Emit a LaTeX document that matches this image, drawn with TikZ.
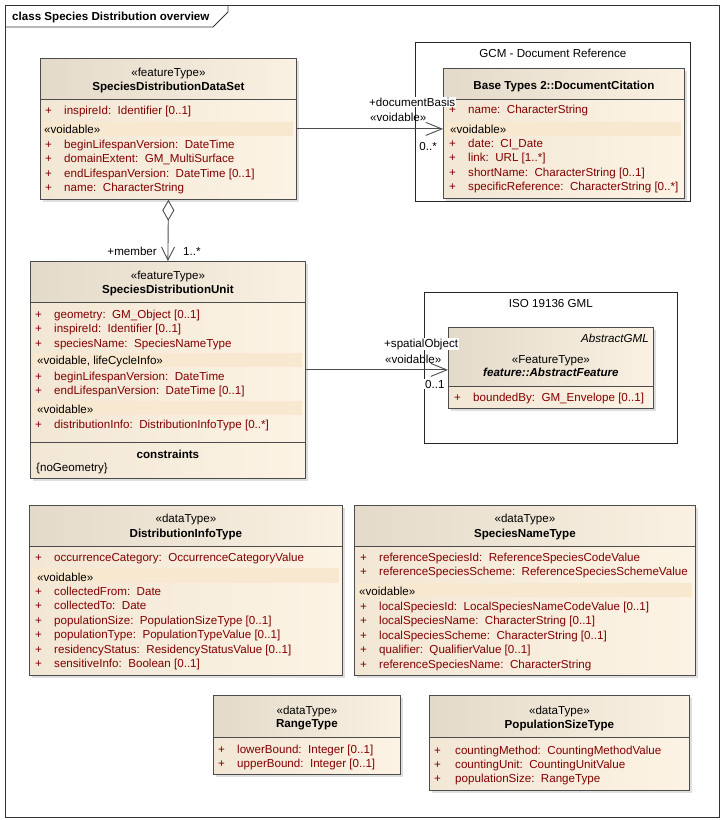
\documentclass[tikz,border=0pt]{standalone}
\usepackage{fontspec}
\setmainfont{Liberation Sans}
\usetikzlibrary{arrows.meta, shadows, positioning}
\definecolor{attrred}{RGB}{130,0,0}
\definecolor{headL}{RGB}{228,218,202}
\definecolor{headR}{RGB}{251,241,226}
\definecolor{bodyL}{RGB}{242,231,213}
\definecolor{bodyR}{RGB}{253,243,228}
\definecolor{bandc}{RGB}{248,232,207}

\begin{document}
\fontsize{11.6}{13}\selectfont
\begin{tikzpicture}[x=1pt, y=-1pt,
    every node/.style={inner sep=0pt},
    classbox/.style={draw=black!70, line width=0.8pt, anchor=north west,
      left color=bodyL, right color=bodyR,
      drop shadow={shadow xshift=3pt, shadow yshift=-3pt, fill=black!25},
      path picture={
        \shade[left color=headL, right color=headR] (path picture bounding box.north west) rectangle ([yshift=-#1]path picture bounding box.north east);
        \draw[black!70, line width=0.8pt] ([yshift=-#1]path picture bounding box.north west) -- ([yshift=-#1]path picture bounding box.north east);}},
    pkg/.style={draw=black!85, line width=0.8pt, fill=white, anchor=north west},
    stereo/.style={anchor=base},
    cname/.style={anchor=base, font=\bfseries},
    row/.style={anchor=base west, text=attrred},
    void/.style={anchor=base west},
    band/.style={fill=bandc},
    sepline/.style={draw=black!70, line width=0.8pt},
    lbl/.style={anchor=base west, fill=white, inner sep=1pt},
    assoc/.style={draw=black!70, line width=0.9pt, -{Straight Barb[length=16pt, width=13pt]}},
    agg/.style={draw=black!70, line width=0.9pt, {Diamond[open, length=21pt, width=12pt]}-{Straight Barb[length=13pt, width=13pt]}}]
  \useasboundingbox (0,0) rectangle (725,820);

  % diagram frame
  \draw[black!80, line width=0.8pt] (5,5) rectangle (719,817);
  \draw[black!80, line width=0.8pt] (5,27) -- (213,27) -- (228,12) -- (228,5);
  \node[anchor=base west, font=\bfseries] (title) at (12,20) {class Species Distribution overview};

  % packages
  \node[pkg, minimum width=275, minimum height=159] (gcm) at (415,42) {};
  \node[stereo] (gcm-t) at (gcm.north |- 0,57) {GCM - Document Reference};
  \node[pkg, minimum width=253, minimum height=151] (iso) at (424,292) {};
  \node[stereo] (iso-t) at (iso.north |- 0,307) {ISO 19136 GML};

  % SpeciesDistributionDataSet
  \node[classbox=41, minimum width=256, minimum height=141] (ds) at (40,58) {};
  \node[stereo] (ds-st) at (ds.north |- 0,76) {«featureType»};
  \node[cname] (ds-nm) at (ds.north |- 0,90) {SpeciesDistributionDataSet};
  \node[row] (ds-p) at (45,114) {+};
  \node[row] (ds-a) at (64,114) {inspireId:~~Identifier [0..1]};
  \fill[band] (43,122) rectangle (293,136);
  \node[void] (ds-v) at (44,133) {«voidable»};
  \foreach \a [count=\i from 0] in {beginLifespanVersion:~~DateTime, domainExtent:~~GM\_MultiSurface, endLifespanVersion:~~DateTime [0..1], name:~~CharacterString}{
    \node[row] (ds-p\i) at (45,148+14.5*\i) {+};
    \node[row] (ds-a\i) at (64,148+14.5*\i) {\a};
  }

  % DocumentCitation
  \node[classbox=31, minimum width=241, minimum height=130] (doc) at (443,68) {};
  \node[cname] (doc-nm) at (doc.north |- 0,89) {Base Types 2::DocumentCitation};
  \node[row] (doc-p) at (449,113) {+};
  \node[row] (doc-a) at (468,113) {name:~~CharacterString};
  \fill[band] (446,122) rectangle (681,136);
  \node[void] (doc-v) at (450,133) {«voidable»};
  \foreach \a [count=\i from 0] in {date:~~CI\_Date, link:~~URL [1..*], shortName:~~CharacterString [0..1], specificReference:~~CharacterString [0..*]}{
    \node[row] (doc-p\i) at (449,147+14.5*\i) {+};
    \node[row] (doc-a\i) at (468,147+14.5*\i) {\a};
  }

  % SpeciesDistributionUnit
  \node[classbox=41, minimum width=275, minimum height=217] (sdu) at (30,261) {};
  \node[stereo] (sdu-st) at (sdu.north |- 0,279) {«featureType»};
  \node[cname] (sdu-nm) at (sdu.north |- 0,293) {SpeciesDistributionUnit};
  \foreach \a [count=\i from 0] in {geometry:~~GM\_Object [0..1], inspireId:~~Identifier [0..1], speciesName:~~SpeciesNameType}{
    \node[row] (sdu-p\i) at (35,318+14.5*\i) {+};
    \node[row] (sdu-a\i) at (54,318+14.5*\i) {\a};
  }
  \fill[band] (33,353) rectangle (302,367);
  \node[void] (sdu-v1) at (37,364) {«voidable, lifeCycleInfo»};
  \foreach \a [count=\i from 0] in {beginLifespanVersion:~~DateTime, endLifespanVersion:~~DateTime [0..1]}{
    \node[row] (sdu-q\i) at (35,380+14.5*\i) {+};
    \node[row] (sdu-b\i) at (54,380+14.5*\i) {\a};
  }
  \fill[band] (33,401) rectangle (302,415);
  \node[void] (sdu-v2) at (37,413) {«voidable»};
  \node[row] (sdu-r) at (35,428) {+};
  \node[row] (sdu-c) at (54,428) {distributionInfo:~~DistributionInfoType [0..*]};
  \draw[sepline] (sdu.west |- 0,442) -- (sdu.east |- 0,442);
  \node[cname] (sdu-cs) at (sdu.north |- 0,458) {constraints};
  \node[void] (sdu-ng) at (36,471) {\{noGeometry\}};

  % AbstractFeature
  \node[classbox=59, minimum width=205, minimum height=81] (af) at (448,327) {};
  \node[anchor=base east, font=\itshape] (af-tag) at (649,342) {AbstractGML};
  \node[stereo] (af-st) at (af.north |- 0,363) {«FeatureType»};
  \node[cname, font=\bfseries\itshape] (af-nm) at (af.north |- 0,376) {feature::AbstractFeature};
  \node[row] (af-p) at (454,401) {+};
  \node[row] (af-a) at (473,401) {boundedBy:~~GM\_Envelope [0..1]};

  % DistributionInfoType
  \node[classbox=41, minimum width=313, minimum height=170] (dit) at (29,505) {};
  \node[stereo] (dit-st) at (dit.north |- 0,522) {«dataType»};
  \node[cname] (dit-nm) at (dit.north |- 0,537) {DistributionInfoType};
  \node[row] (dit-p) at (35,561) {+};
  \node[row] (dit-a) at (54,561) {occurrenceCategory:~~OccurrenceCategoryValue};
  \fill[band] (32,568) rectangle (339,583);
  \node[void] (dit-v) at (37,581) {«voidable»};
  \foreach \a [count=\i from 0] in {collectedFrom:~~Date, collectedTo:~~Date, populationSize:~~PopulationSizeType [0..1], populationType:~~PopulationTypeValue [0..1], residencyStatus:~~ResidencyStatusValue [0..1], sensitiveInfo:~~Boolean [0..1]}{
    \node[row] (dit-p\i) at (35,595+14.5*\i) {+};
    \node[row] (dit-a\i) at (54,595+14.5*\i) {\a};
  }

  % SpeciesNameType
  \node[classbox=41, minimum width=341, minimum height=170] (snt) at (354,505) {};
  \node[stereo] (snt-st) at (snt.north |- 0,522) {«dataType»};
  \node[cname] (snt-nm) at (snt.north |- 0,537) {SpeciesNameType};
  \foreach \a [count=\i from 0] in {referenceSpeciesId:~~ReferenceSpeciesCodeValue, referenceSpeciesScheme:~~ReferenceSpeciesSchemeValue}{
    \node[row] (snt-p\i) at (360,561+14.5*\i) {+};
    \node[row] (snt-a\i) at (379,561+14.5*\i) {\a};
  }
  \fill[band] (357,583) rectangle (692,597);
  \node[void] (snt-v) at (359,595) {«voidable»};
  \foreach \a [count=\i from 0] in {localSpeciesId:~~LocalSpeciesNameCodeValue [0..1], localSpeciesName:~~CharacterString [0..1], localSpeciesScheme:~~CharacterString [0..1], qualifier:~~QualifierValue [0..1], referenceSpeciesName:~~CharacterString}{
    \node[row] (snt-q\i) at (360,610+14.5*\i) {+};
    \node[row] (snt-b\i) at (379,610+14.5*\i) {\a};
  }

  % RangeType
  \node[classbox=42, minimum width=187, minimum height=79] (rt) at (213,695) {};
  \node[stereo] (rt-st) at (rt.north |- 0,714) {«dataType»};
  \node[cname] (rt-nm) at (rt.north |- 0,727) {RangeType};
  \foreach \a [count=\i from 0] in {lowerBound:~~Integer [0..1], upperBound:~~Integer [0..1]}{
    \node[row] (rt-p\i) at (218,753+14*\i) {+};
    \node[row] (rt-a\i) at (237,753+14*\i) {\a};
  }

  % PopulationSizeType
  \node[classbox=42, minimum width=260, minimum height=95] (pst) at (429,695) {};
  \node[stereo] (pst-st) at (pst.north |- 0,714) {«dataType»};
  \node[cname] (pst-nm) at (pst.north |- 0,728) {PopulationSizeType};
  \foreach \a [count=\i from 0] in {countingMethod:~~CountingMethodValue, countingUnit:~~CountingUnitValue, populationSize:~~RangeType}{
    \node[row] (pst-p\i) at (434,754+14*\i) {+};
    \node[row] (pst-a\i) at (455,754+14*\i) {\a};
  }

  % associations
  \draw[assoc] (ds.east) -- (doc.west |- ds.east);
  \draw[assoc] (sdu.east) -- (af.west |- sdu.east);
  \draw[agg] (ds.south) -- (sdu.north);

  % association ends
  \node[lbl] (db-role) at (368,106) {+documentBasis};
  \node[void] (db-st) at (370,121) {«voidable»};
  \node[lbl, anchor=base east] (db-mult) at (438,150) {0..*};
  \node[lbl] (so-role) at (383,347) {+spatialObject};
  \node[void] (so-st) at (385,363) {«voidable»};
  \node[lbl] (so-mult) at (424,388) {0..1};
  \node[anchor=base east] (mb-role) at (157,255) {+member};
  \node[anchor=base west] (mb-mult) at (183,255) {1..*};
\end{tikzpicture}
\end{document}
